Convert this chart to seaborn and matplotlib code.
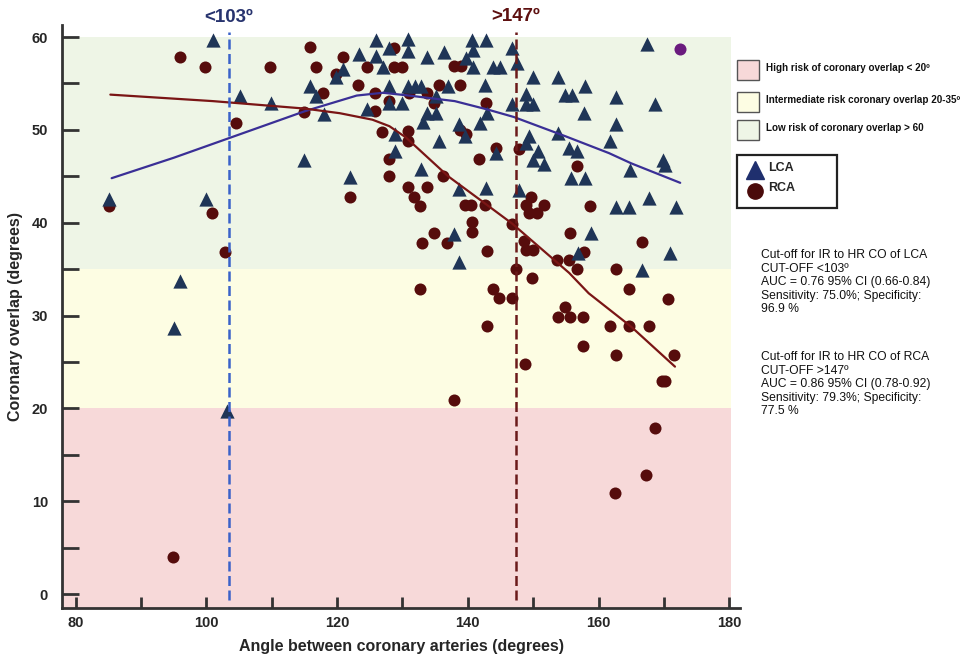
import numpy as np
import pandas as pd
import matplotlib
matplotlib.use("Agg")
import matplotlib.pyplot as plt
from matplotlib.patches import Rectangle
from matplotlib.lines import Line2D
import seaborn as sns

# --- data (angle in degrees, coronary overlap in degrees)
lca_angle = [85.1, 100.0, 101.0, 105.1, 96.0, 95.0, 103.1, 109.9, 115.9, 116.8,
             118.0, 115.0, 121.9, 120.9, 119.9, 123.3, 124.6, 125.9, 125.9, 127.0,
             128.0, 130.8, 130.8, 128.0, 128.0, 129.9, 128.9, 128.9, 130.9, 131.9,
             132.8, 133.8, 136.4, 136.9, 135.1, 133.8, 135.1, 133.1, 138.7, 135.6,
             132.8, 138.7, 137.9, 138.7, 140.7, 142.8, 140.8, 139.7, 140.8, 143.8,
             144.9, 146.8, 147.6, 149.9, 153.8, 142.7, 141.9, 143.0, 139.5, 144.3,
             142.8, 147.8, 148.9, 154.8, 156.0, 157.9, 162.6, 146.8, 148.9, 150.0,
             157.8, 162.6, 149.4, 148.9, 153.8, 161.8, 150.7, 155.5, 156.7, 149.9,
             151.6, 167.4, 168.7, 155.8, 157.9, 164.8, 169.9, 170.1, 162.6, 164.7,
             167.8, 171.8, 158.8, 170.9, 156.9, 166.6]
lca_overlap = [42.6, 42.6, 59.7, 53.7, 33.7, 28.7, 19.7, 52.9, 54.7, 53.7,
               51.7, 46.8, 44.9, 56.6, 55.7, 58.2, 52.2, 59.7, 58.0, 56.8,
               58.8, 59.8, 58.5, 54.7, 52.9, 52.9, 49.6, 47.7, 54.7, 54.7,
               54.7, 57.8, 58.4, 54.7, 53.6, 51.8, 51.8, 50.8, 50.6, 48.8,
               45.8, 43.6, 38.8, 35.8, 59.7, 59.7, 58.6, 57.7, 56.8, 56.8,
               56.8, 58.8, 57.2, 55.7, 55.7, 54.8, 50.7, 51.8, 49.3, 47.5,
               43.7, 43.5, 53.9, 53.8, 53.8, 54.7, 53.5, 52.8, 52.8, 52.8,
               51.8, 50.6, 49.3, 48.6, 49.7, 48.8, 47.7, 48.1, 47.7, 46.8,
               46.3, 59.2, 52.8, 44.8, 44.8, 45.7, 46.8, 46.2, 41.7, 41.7,
               42.7, 41.7, 38.9, 36.7, 36.7, 34.9]

rca_angle = [85.1, 95.9, 99.8, 104.6, 100.9, 102.9, 94.9, 115.9, 109.8, 116.7,
             117.8, 114.9, 121.9, 120.9, 119.8, 123.2, 125.8, 125.8, 124.6, 128.7,
             128.7, 130.0, 127.9, 126.9, 127.9, 127.9, 130.8, 130.8, 130.8, 131.0,
             133.7, 137.9, 138.9, 135.6, 138.8, 134.9, 138.8, 139.7, 133.7, 131.8,
             132.7, 136.2, 139.5, 140.5, 134.8, 133.0, 136.8, 132.7, 142.8, 144.3,
             141.7, 142.6, 149.6, 148.9, 151.7, 150.6, 149.4, 140.7, 140.7, 146.8,
             142.9, 148.6, 148.9, 149.9, 153.7, 155.5, 147.3, 149.8, 147.8, 156.7,
             158.7, 155.7, 166.6, 157.8, 156.7, 162.6, 143.8, 144.8, 146.8, 164.7,
             154.8, 170.6, 142.9, 153.8, 155.7, 157.7, 157.7, 161.7, 164.7, 167.7,
             162.6, 171.6, 148.7, 169.7, 170.2, 137.9, 168.7, 167.3, 162.5]
rca_overlap = [41.8, 57.9, 56.8, 50.7, 41.0, 36.9, 4.0, 58.9, 56.8, 56.8,
               54.0, 51.9, 42.8, 57.9, 56.0, 54.8, 52.0, 54.0, 56.8, 58.8,
               56.8, 56.8, 53.1, 49.8, 46.9, 45.0, 43.9, 49.9, 48.8, 54.0,
               54.0, 56.9, 56.9, 54.8, 54.8, 52.9, 50.0, 49.6, 43.8, 42.8,
               41.8, 45.0, 41.9, 41.9, 38.9, 37.8, 37.8, 32.9, 52.9, 48.0,
               46.9, 41.9, 42.8, 41.9, 41.9, 41.0, 41.0, 40.1, 39.0, 39.9,
               37.0, 38.0, 37.1, 37.1, 36.0, 36.0, 35.0, 34.0, 47.9, 46.1,
               41.8, 38.9, 37.9, 36.9, 35.0, 35.0, 32.9, 31.9, 31.9, 32.9,
               30.9, 31.8, 28.9, 29.8, 29.8, 29.8, 26.7, 28.9, 28.9, 28.9,
               25.8, 25.8, 24.8, 22.9, 22.9, 20.9, 17.9, 12.8, 10.9]

extra_angle = [172.4]
extra_overlap = [58.7]

# fitted trend curves as drawn in the figure
lca_fit_x = [85.5, 95, 105, 115, 123, 127, 131, 138, 143, 147, 155, 161.6, 165, 172.5]
lca_fit_y = [44.8, 47.0, 49.5, 52.0, 53.7, 54.0, 53.7, 53.1, 52.2, 51.4, 49.3, 47.5, 46.4, 44.3]
rca_fit_x = [85.3, 101, 115, 120.4, 125.4, 128, 130.5, 137, 142.2, 146.8, 155.5, 158.5, 165, 171.7]
rca_fit_y = [53.8, 53.1, 52.3, 51.8, 51.1, 50.4, 49.2, 45.0, 42.3, 39.9, 34.6, 32.4, 28.8, 24.5]

cut_lca = 103.4
cut_rca = 147.3

risk_labels = ["High risk of coronary overlap < 20º",
               "Intermediate risk coronary overlap 20-35º",
               "Low risk of coronary overlap > 60"]
risk_colors = ["#f7d9d9", "#fdfde3", "#eef5e6"]

lca_note = ("Cut-off for IR to HR CO of LCA\nCUT-OFF <103º\n"
            "AUC = 0.76 95% CI (0.66-0.84)\nSensitivity: 75.0%; Specificity:\n96.9 %")
rca_note = ("Cut-off for IR to HR CO of RCA\nCUT-OFF >147º\n"
            "AUC = 0.86 95% CI (0.78-0.92)\nSensitivity: 79.3%; Specificity:\n77.5 %")

lca_df = pd.DataFrame({"angle": lca_angle, "overlap": lca_overlap})
rca_df = pd.DataFrame({"angle": rca_angle, "overlap": rca_overlap})

sns.set_style("ticks")
plt.rcParams["font.family"] = ["Liberation Sans", "DejaVu Sans"]

LCA_C = "#1f3557"
RCA_C = "#560c0c"

W, H = 963, 663
fig = plt.figure(figsize=(W / 100, H / 100), dpi=100)
ax = fig.add_axes([62 / W, 1 - 608 / H, (740 - 62) / W, (608 - 25) / H])
ax.set_xlim(77.9, 181.65)
ax.set_ylim(-1.5, 61.3)

# risk bands
band_right = (180.3 - 77.9) / (181.65 - 77.9)
ax.axhspan(-1.5, 20, xmax=band_right, color=risk_colors[0], lw=0, zorder=0)
ax.axhspan(20, 35, xmax=band_right, color=risk_colors[1], lw=0, zorder=0)
ax.axhspan(35, 60, xmax=band_right, color=risk_colors[2], lw=0, zorder=0)

sns.scatterplot(data=rca_df, x="angle", y="overlap", marker="o", s=75,
                color=RCA_C, linewidth=0, ax=ax, zorder=3, clip_on=False)
sns.scatterplot(data=lca_df, x="angle", y="overlap", marker="^", s=105,
                color=LCA_C, linewidth=0, ax=ax, zorder=3, clip_on=False)
sns.scatterplot(x=extra_angle, y=extra_overlap, marker="o", s=75,
                color="#6a1b7e", linewidth=0, ax=ax, zorder=3, clip_on=False)

sns.lineplot(x=lca_fit_x, y=lca_fit_y, color="#3a2f96", lw=1.6,
             estimator=None, sort=False, ax=ax, zorder=4)
sns.lineplot(x=rca_fit_x, y=rca_fit_y, color="#7a1515", lw=1.6,
             estimator=None, sort=False, ax=ax, zorder=4)

ax.plot([cut_lca, cut_lca], [-0.6, 60.5], color="#3a62c9", lw=1.8,
        ls=(0, (4, 1.8)), zorder=5, clip_on=False)
ax.plot([cut_rca, cut_rca], [-0.6, 60.5], color="#6b1a1a", lw=1.8,
        ls=(0, (4, 1.8)), zorder=5, clip_on=False)
ax.text(cut_lca, 62.1, "<103º", color="#27336e", fontsize=13.5,
        fontweight="bold", ha="center", va="center", clip_on=False)
ax.text(cut_rca, 62.2, ">147º", color="#5e1010", fontsize=13.5,
        fontweight="bold", ha="center", va="center", clip_on=False)

# axes styling
for s in ["top", "right"]:
    ax.spines[s].set_visible(False)
for s in ["left", "bottom"]:
    ax.spines[s].set_color("#333333")
    ax.spines[s].set_linewidth(2)
ax.set_xticks(np.arange(80, 181, 20))
ax.set_xticks(np.arange(90, 181, 20), minor=True)
ax.set_yticks(np.arange(0, 61, 10))
ax.set_yticks(np.arange(5, 61, 10), minor=True)
ax.tick_params(axis="both", which="both", direction="in", color="#333333", width=2)
ax.tick_params(axis="y", which="both", length=12, pad=10)
ax.tick_params(axis="x", which="both", length=8, pad=6)
for lab in ax.get_xticklabels() + ax.get_yticklabels():
    lab.set_fontweight("bold")
    lab.set_fontsize(10.5)
ax.set_xlabel("Angle between coronary arteries (degrees)", fontsize=11.5,
              fontweight="bold", labelpad=6)
ax.set_ylabel("Coronary overlap (degrees)", fontsize=11.5, fontweight="bold",
              labelpad=6)

# right-hand legend, drawn in figure pixels
def fx(px):
    return px / W


def fy(py):
    return 1 - py / H


rows = [(60, 80), (92, 112), (120, 140)]
for (top, bot), lab, col in zip(rows, risk_labels, risk_colors):
    fig.add_artist(Rectangle((fx(737), fy(bot)), 22 / W, (bot - top) / H,
                             facecolor=col, edgecolor="#555555", lw=1,
                             transform=fig.transFigure))
    fig.text(fx(766), fy((top + bot) / 2 - 2), lab, fontsize=7.1,
             fontweight="bold", va="center", ha="left", color="#111111")

fig.add_artist(Rectangle((fx(737), fy(208)), 100 / W, 53 / H, facecolor="white",
                         edgecolor="#222222", lw=1.6, transform=fig.transFigure))
fig.add_artist(Line2D([fx(755)], [fy(170)], marker="^", markersize=13,
                      color="#1f2f6e", lw=0, transform=fig.transFigure))
fig.add_artist(Line2D([fx(755)], [fy(191)], marker="o", markersize=11,
                      color="#4a0a0a", lw=0, transform=fig.transFigure))
fig.text(fx(768), fy(168), "LCA", fontsize=9, fontweight="bold", va="center")
fig.text(fx(768), fy(188), "RCA", fontsize=9, fontweight="bold", va="center")

fig.text(fx(761), fy(249), lca_note, fontsize=8.7, va="top", ha="left",
         linespacing=1.18, color="#111111")
fig.text(fx(761), fy(351), rca_note, fontsize=8.7, va="top", ha="left",
         linespacing=1.18, color="#111111")

fig.savefig("out.png", dpi=100)
